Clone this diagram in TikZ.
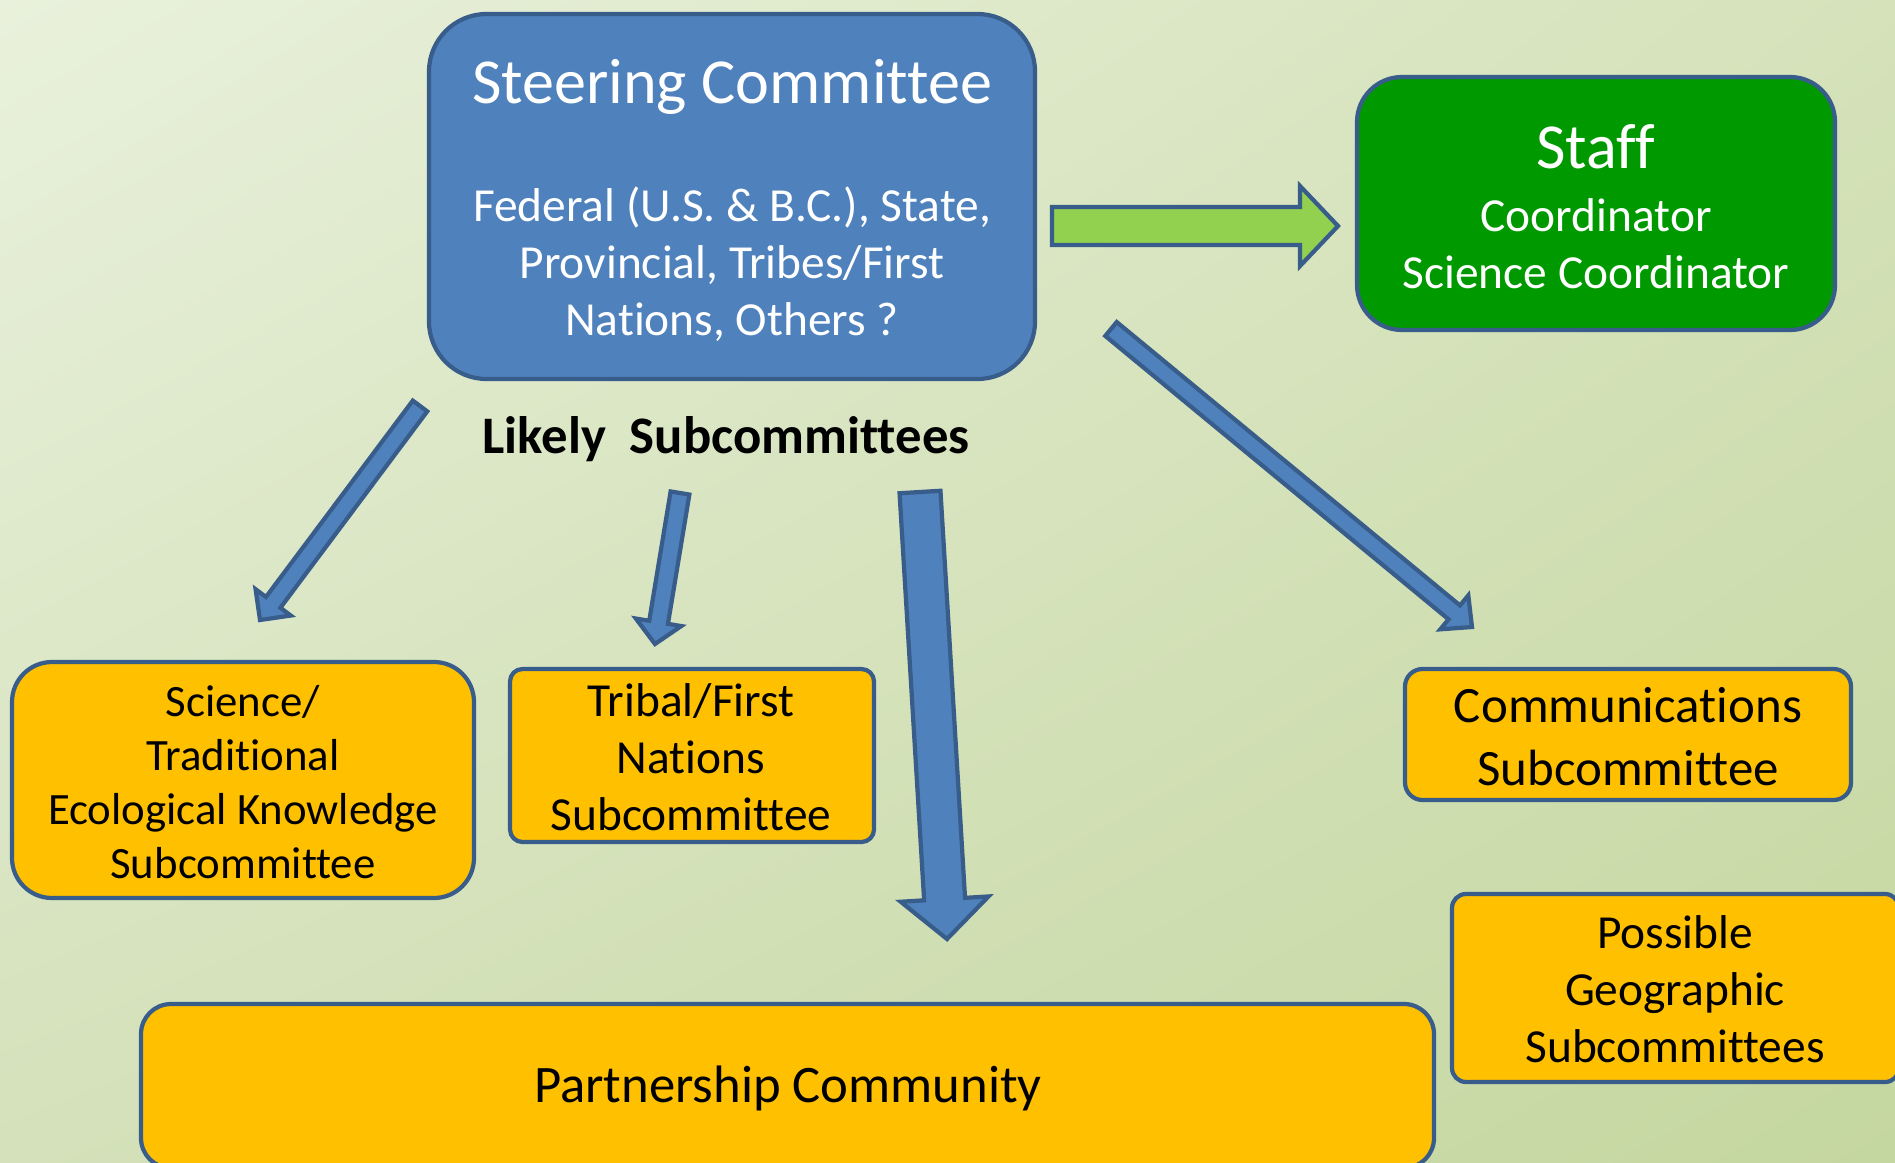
\documentclass[tikz,border=0pt]{standalone}
\usepackage{fontspec}
\setmainfont{Carlito}[Ligatures=NoCommon]
\usetikzlibrary{calc,fit,shadings}
\definecolor{bgUL}{HTML}{E9F1DC}
\definecolor{bgUR}{HTML}{D5E2BA}
\definecolor{bgLL}{HTML}{D4E1BA}
\definecolor{bgLR}{HTML}{C5D7A0}
\definecolor{edge}{HTML}{385D8A}
\definecolor{steerblue}{HTML}{4F81BD}
\definecolor{staffgreen}{HTML}{009900}
\definecolor{subyellow}{HTML}{FFC000}
\definecolor{arrowgreen}{HTML}{92D050}
\newcommand\blockarrow[6]{%
  \coordinate (bah) at ($(#2)!#5!(#1)$);
  \filldraw[barrow, fill=#6]
    ($(#1)!#3!90:(#2)$) -- ($(bah)!#3!90:(#2)$) -- ($(bah)!#4!90:(#2)$) -- (#2)
    -- ($(bah)!#4!-90:(#2)$) -- ($(bah)!#3!-90:(#2)$) -- ($(#1)!#3!-90:(#2)$) -- cycle;}
\begin{document}
\begin{tikzpicture}[x=0.02cm,y=-0.02cm,
  box/.style={draw=edge, line width=2.4pt, inner sep=0pt},
  barrow/.style={draw=edge, line width=2.4pt, line join=miter},
  ftitle/.style={font=\fontsize{36.5}{43}\selectfont},
  fbody/.style={font=\fontsize{27}{32.4}\selectfont}]
\useasboundingbox (0,0) rectangle (1895,1162);
\clip (0,0) rectangle (1895,1162);
\shade[upper left=bgUL, upper right=bgUR, lower left=bgLL, lower right=bgLR] (0,0) rectangle (1895,1162);

% boxes
\node[box, fill=steerblue, rounded corners=1.15cm, fit={(429,14) (1035,379)}] (steer) {};
\node[ftitle, text=white] (steertitle) at (732,87) {Steering Committee};
\node[fbody, text=white, align=center] (steerbody) at (732,264) {Federal (U.S. \& B.C.), State,\\Provincial, Tribes/First\\Nations, Others ?};

\node[box, fill=staffgreen, rounded corners=0.9cm, fit={(1357,77) (1835,330)}] (staff) {};
\node[ftitle, text=white] (stafftitle) at (1596,147) {Staff};
\node[fbody, text=white, align=center] (staffbody) at (1596,244) {Coordinator\\Science Coordinator};

\node[font=\fontsize{30}{36}\selectfont\bfseries] (likely) at (726,439) {Likely\ \ Subcommittees};

\node[box, fill=subyellow, rounded corners=0.8cm, fit={(12,662) (474,898)}] (tek) {};
\node[align=center, font=\fontsize{25.5}{30.6}\selectfont] (tektext) at (243,782)
  {Science/\\Traditional\\Ecological Knowledge\\Subcommittee};
\node[box, fill=subyellow, rounded corners=0.25cm, fit={(510,669) (874,842)}] (tribal) {};
\node[align=center, font=\fontsize{27}{32.4}\selectfont] (tribaltext) at (691,757)
  {Tribal/First\\Nations\\Subcommittee};
\node[box, fill=subyellow, rounded corners=0.35cm, fit={(1405,669) (1851,800)}] (comm) {};
\node[align=center, font=\fontsize{29}{35.7}\selectfont] (commtext) at (1628,737)
  {Communications\\Subcommittee};
\node[box, fill=subyellow, rounded corners=0.28cm, fit={(1452,894) (1899,1082)}] (geo) {};
\node[align=center, font=\fontsize{27}{32.6}\selectfont] (geotext) at (1675,989)
  {Possible\\Geographic\\Subcommittees};
\node[box, fill=subyellow, rounded corners=0.6cm, fit={(141,1004) (1434,1168)}] (partner) {};
\node[font=\fontsize{30}{36}\selectfont] (partnertext) at (788,1088) {Partnership Community};

% arrow end points
\coordinate (gA) at (1052,226);
\coordinate (gB) at (1338,226);
\coordinate (a1A) at (420,406);
\coordinate (a1B) at (260,620);
\coordinate (a2A) at (680,493);
\coordinate (a2B) at (655,644);
\coordinate (a3A) at (920,492);
\coordinate (a3B) at (947,939);
\coordinate (a4A) at (1111,329);
\coordinate (a4B) at (1472,627);

\blockarrow{gA}{gB}{0.38cm}{0.8cm}{0.76cm}{arrowgreen}
\blockarrow{a1A}{a1B}{0.18cm}{0.44cm}{0.44cm}{steerblue}
\blockarrow{a2A}{a2B}{0.19cm}{0.46cm}{0.44cm}{steerblue}
\blockarrow{a3A}{a3B}{0.41cm}{0.88cm}{0.8cm}{steerblue}
\blockarrow{a4A}{a4B}{0.18cm}{0.44cm}{0.46cm}{steerblue}
\end{tikzpicture}
\end{document}
